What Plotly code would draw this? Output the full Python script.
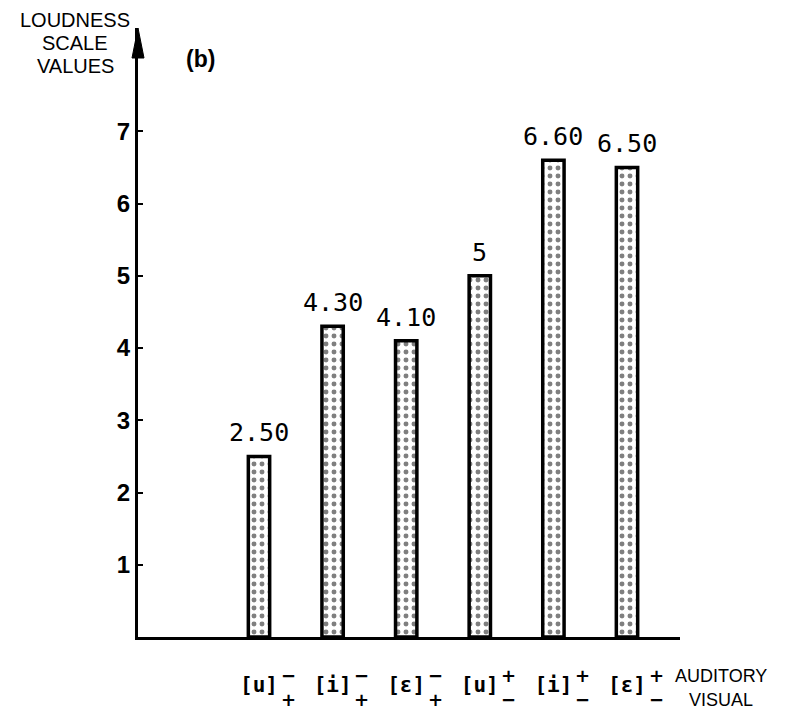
import plotly.graph_objects as go

categories = ["[u]", "[i]", "[ε]", "[u]", "[i]", "[ε]"]
values = [2.50, 4.30, 4.10, 5.0, 6.60, 6.50]
value_labels = ["2.50", "4.30", "4.10", "5", "6.60", "6.50"]
sup_marks = ["−", "−", "−", "+", "+", "+"]
sub_marks = ["+", "+", "+", "−", "−", "−"]
y_ticks = [1, 2, 3, 4, 5, 6, 7]

xpos = list(range(len(categories)))

fig = go.Figure()
fig.add_trace(go.Bar(
    x=xpos, y=values, width=0.29,
    marker=dict(color="white", line=dict(color="black", width=3.5),
                pattern=dict(shape=".", fgcolor="black", bgcolor="white",
                             size=8, solidity=0.3)),
))

annotations = []
for i, (v, lab) in enumerate(zip(values, value_labels)):
    annotations.append(dict(x=i, y=v, xref="x", yref="y", text=lab,
                            showarrow=False, xanchor="center", yanchor="bottom", yshift=7,
                            font=dict(family="DejaVu Sans Mono", size=25, color="black")))
for i, (sp, sb) in enumerate(zip(sup_marks, sub_marks)):
    annotations.append(dict(x=i, y=0, xref="x", yref="paper", text=sp,
                            showarrow=False, xshift=29, yshift=-38,
                            xanchor="center", yanchor="middle",
                            font=dict(family="DejaVu Sans", size=18, color="black", weight="bold")))
    annotations.append(dict(x=i, y=0, xref="x", yref="paper", text=sb,
                            showarrow=False, xshift=29, yshift=-62,
                            xanchor="center", yanchor="middle",
                            font=dict(family="DejaVu Sans", size=18, color="black", weight="bold")))

for txt, ypx in [("LOUDNESS", 20), ("SCALE", 43), ("VALUES", 66)]:
    annotations.append(dict(x=-0.116, y=(637 - ypx) / 609, xref="paper", yref="paper",
                            text=txt, showarrow=False, xanchor="center", yanchor="middle",
                            font=dict(family="Liberation Sans", size=20, color="black")))
annotations.append(dict(x=(200 - 138) / 542, y=(637 - 59) / 609, xref="paper", yref="paper",
                        text="<b>(b)</b>", showarrow=False, xanchor="center", yanchor="middle",
                        font=dict(family="Liberation Sans", size=23, color="black")))
for txt, ypx in [("AUDITORY", 676), ("VISUAL", 700)]:
    annotations.append(dict(x=(721 - 138) / 542, y=(637 - ypx) / 609, xref="paper", yref="paper",
                            text=txt, showarrow=False, xanchor="center", yanchor="middle",
                            font=dict(family="Liberation Sans", size=18, color="black")))

shapes = [dict(type="path", xref="paper", yref="paper",
               path=f"M 0,1 L {-6/542},{1-30/609} L {6/542},{1-30/609} Z",
               fillcolor="black", line=dict(color="black", width=1))]

fig.update_layout(
    width=789, height=719,
    margin=dict(l=138, r=109, t=28, b=82),
    paper_bgcolor="white", plot_bgcolor="white",
    showlegend=False,
    annotations=annotations, shapes=shapes,
    xaxis=dict(range=[-1.644, 5.72], showgrid=False, zeroline=False,
               showline=True, linecolor="black", linewidth=3,
               tickmode="array", tickvals=xpos, ticktext=categories,
               ticks="", ticklabelstandoff=27,
               tickfont=dict(family="DejaVu Sans Mono", size=21, color="black", weight="bold")),
    yaxis=dict(range=[0, 8.43], showgrid=False, zeroline=False,
               showline=True, linecolor="black", linewidth=3,
               tickmode="array", tickvals=y_ticks, ticktext=[str(t) for t in y_ticks],
               ticks="inside", ticklen=5, tickwidth=2, tickcolor="black",
               tickfont=dict(family="Liberation Sans", size=24, color="black", weight="bold")),
)

fig.write_html("out.html")
